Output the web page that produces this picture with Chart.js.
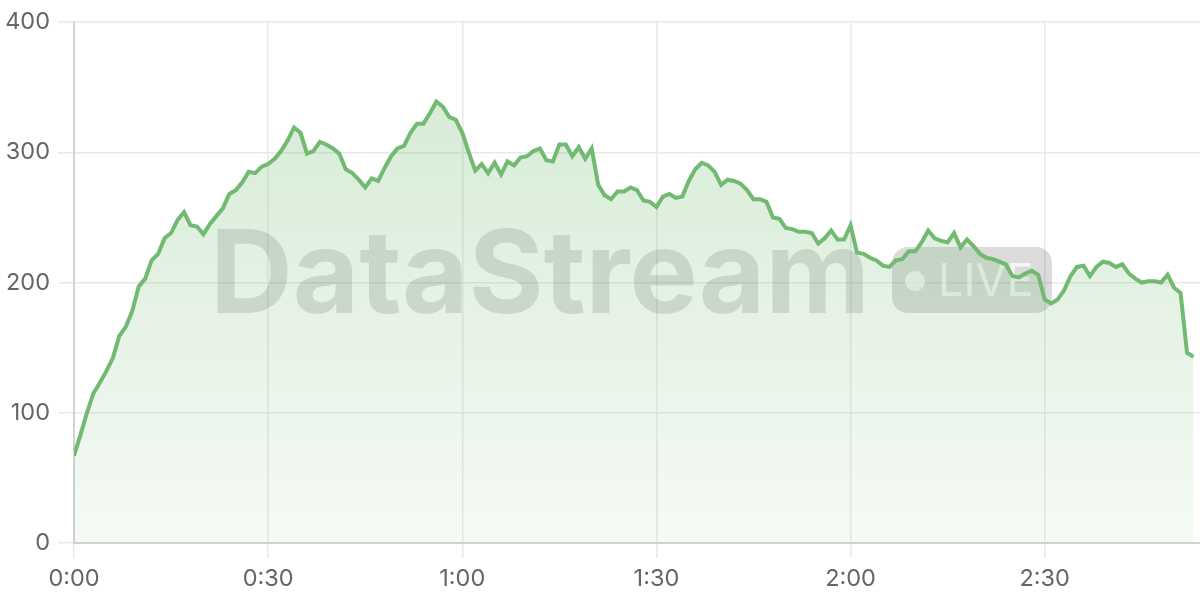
<!DOCTYPE html>
<html lang="en">
<head>
    <meta charset="UTF-8">
    <title>DataStream LIVE</title>
    <script src="https://cdn.jsdelivr.net/npm/chart.js"></script>
    <style>
        html, body { margin: 0; padding: 0; background: #fff; }
        #wrap { width: 1200px; height: 600px; }
    </style>
</head>
<body>
    <div id="wrap"><canvas id="streamChart" width="1200" height="600"></canvas></div>

    <script>
        // one reading per minute, 0:00 .. 2:53
        const minutes = Array.from({ length: 174 }, (_, i) => i);
        const viewers = [
            67, 83, 100, 115, 123, 132, 142, 159, 166, 178,
            197, 203, 217, 222, 234, 238, 248, 254, 244, 243,
            237, 245, 251, 257, 268, 271, 277, 285, 284, 289,
            291, 295, 301, 309, 319, 315, 299, 301, 308, 306,
            303, 299, 287, 284, 279, 273, 280, 278, 288, 297,
            303, 305, 315, 322, 322, 330, 339, 335, 327, 325,
            315, 300, 286, 291, 284, 292, 283, 293, 290, 296,
            297, 301, 303, 294, 293, 306, 306, 297, 304, 295,
            303, 275, 267, 264, 270, 270, 273, 271, 263, 262,
            258, 266, 268, 265, 266, 278, 287, 292, 290, 285,
            275, 279, 278, 276, 271, 264, 264, 262, 250, 249,
            242, 241, 239, 239, 238, 230, 234, 240, 233, 233,
            244, 223, 222, 219, 217, 213, 212, 217, 218, 224,
            224, 231, 240, 234, 232, 231, 238, 227, 233, 228,
            222, 219, 218, 216, 214, 205, 204, 207, 209, 206,
            187, 184, 187, 194, 205, 212, 213, 205, 212, 216,
            215, 212, 214, 207, 203, 200, 201, 201, 200, 206,
            196, 192, 146, 143
        ];
        const yTicks = [0, 100, 200, 300, 400];
        const xStepMinutes = 30;

        const green = 'rgb(114, 186, 114)';
        const tickFont = { family: 'Inter, "Noto Sans", sans-serif', size: 23.5 };

        function fmtTime(m) {
            const h = Math.floor(m / 60);
            const mm = m % 60;
            return h + ':' + (mm < 10 ? '0' + mm : mm);
        }

        // big faded "DataStream  • LIVE" mark behind the series
        const watermark = {
            id: 'watermark',
            beforeDatasetsDraw(chart) {
                const ctx = chart.ctx;
                ctx.save();
                ctx.fillStyle = 'rgba(0, 0, 0, 0.13)';
                ctx.font = 'bold 115px Inter, "Noto Sans", sans-serif';
                ctx.textBaseline = 'alphabetic';
                const word = 'DataStream';
                const w = ctx.measureText(word).width;
                const target = 660;
                ctx.translate(210, 313);
                ctx.scale(target / w, 1);
                ctx.fillText(word, 0, 0);
                ctx.restore();

                // LIVE pill
                ctx.save();
                const px = 892, py = 247, pw = 160, ph = 66, r = 16;
                ctx.fillStyle = 'rgba(0, 0, 0, 0.14)';
                ctx.beginPath();
                ctx.moveTo(px + r, py);
                ctx.arcTo(px + pw, py, px + pw, py + ph, r);
                ctx.arcTo(px + pw, py + ph, px, py + ph, r);
                ctx.arcTo(px, py + ph, px, py, r);
                ctx.arcTo(px, py, px + pw, py, r);
                ctx.closePath();
                ctx.fill();
                ctx.fillStyle = 'rgba(255, 255, 255, 0.72)';
                ctx.beginPath();
                ctx.arc(915, 281, 10, 0, Math.PI * 2);
                ctx.fill();
                ctx.font = '45px Inter, "Noto Sans", sans-serif';
                ctx.textBaseline = 'alphabetic';
                ctx.fillText('LIVE', 938, 296);
                ctx.restore();
            }
        };

        const ctx = document.getElementById('streamChart').getContext('2d');
        new Chart(ctx, {
            type: 'line',
            data: {
                labels: minutes,
                datasets: [{
                    data: viewers,
                    borderColor: green,
                    borderWidth: 4,
                    pointRadius: 0,
                    tension: 0,
                    fill: 'origin',
                    backgroundColor: (c) => {
                        const area = c.chart.chartArea;
                        if (!area) return 'rgba(114,186,114,0.2)';
                        const g = c.chart.ctx.createLinearGradient(0, area.top, 0, area.bottom);
                        g.addColorStop(0, 'rgba(114, 186, 114, 0.32)');
                        g.addColorStop(1, 'rgba(114, 186, 114, 0.07)');
                        return g;
                    }
                }]
            },
            options: {
                responsive: false,
                animation: false,
                layout: { padding: { top: 19, right: 0, left: 0, bottom: 0 } },
                plugins: { legend: { display: false }, tooltip: { enabled: false } },
                scales: {
                    x: {
                        type: 'linear',
                        min: 0,
                        max: 174,
                        afterFit: (s) => { s.height = 57; },
                        grid: { color: '#e9e9e9', lineWidth: 1.5, tickLength: 15 },
                        border: { color: '#d2d2d2', width: 2 },
                        ticks: {
                            stepSize: xStepMinutes,
                            includeBounds: false,
                            maxRotation: 0,
                            padding: 7,
                            color: '#666',
                            font: tickFont,
                            callback: (v) => fmtTime(v)
                        }
                    },
                    y: {
                        min: yTicks[0],
                        max: yTicks[yTicks.length - 1],
                        afterFit: (s) => { s.width = 74; },
                        grid: { color: '#e9e9e9', lineWidth: 1.5, tickLength: 16 },
                        border: { color: '#d2d2d2', width: 2 },
                        ticks: {
                            stepSize: 100,
                            padding: 8,
                            color: '#666',
                            font: tickFont
                        }
                    }
                }
            },
            plugins: [watermark]
        });
    </script>
</body>
</html>
